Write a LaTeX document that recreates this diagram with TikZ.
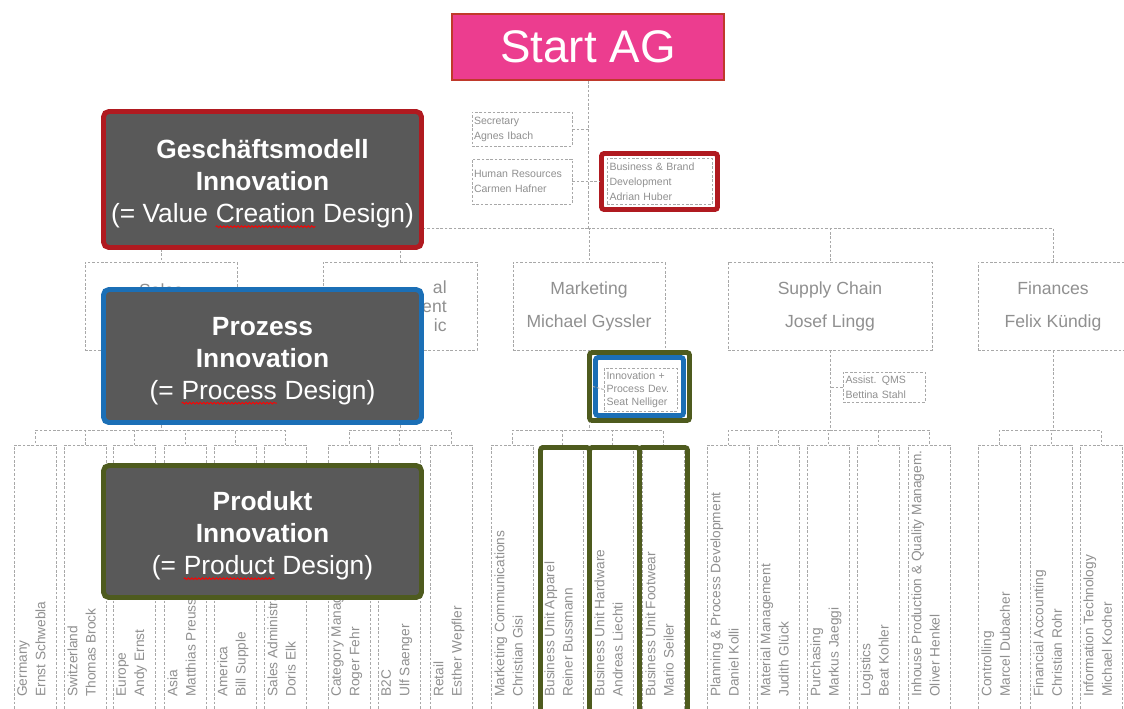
\documentclass[tikz,border=0pt]{standalone}
\usepackage{fontspec}
\setmainfont{Liberation Sans}
\usetikzlibrary{decorations.pathmorphing}

\definecolor{startpink}{HTML}{EC3D8F}
\definecolor{startrim}{HTML}{C0392B}
\definecolor{boxgray}{HTML}{595959}
\definecolor{bmred}{HTML}{B01A20}
\definecolor{procblue}{HTML}{1B6FB6}
\definecolor{prodolive}{HTML}{4E5B1E}
\definecolor{orggray}{HTML}{A8A8A8}
\definecolor{orgtext}{HTML}{909090}

% red spell-check squiggle under a word
\newcommand{\redwave}[1]{\tikz[baseline=(w.base)]{\node[inner sep=0pt, outer sep=0pt, minimum width=0pt, minimum height=0pt, draw=none, fill=none, text width=, anchor=base] (w) {#1};
    \draw[red, line width=0.5pt, rounded corners=0pt, decorate, decoration={snake, amplitude=0.5pt, segment length=2pt}]
        ([yshift=-2.2pt]w.base west) -- ([yshift=-2.2pt]w.base east);}}

\begin{document}
\begin{tikzpicture}[x=0.02cm, y=-0.02cm,
    orgline/.style={draw=orggray, line width=0.5pt, dash pattern=on 1.5pt off 1pt},
    orgbox/.style={draw=orggray, line width=0.5pt, dash pattern=on 1.5pt off 1pt, fill=white, inner sep=0pt, text=orgtext, align=center},
    lvltwo/.style={orgbox, minimum height=1.76cm, font=\fontsize{10}{18.8}\selectfont},
    smallbox/.style={orgbox, align=left, font=\fontsize{6}{8.5}\selectfont},
    leafbox/.style={orgbox, minimum width=0.84cm, minimum height=5.4cm},
    leaftxt/.style={text=orgtext, inner sep=0pt, rotate=90, anchor=north west, align=left, font=\fontsize{7.8}{10.5}\selectfont},
    focus/.style={fill=boxgray, line width=2.8pt, rounded corners=3pt, text=white, align=center, minimum width=6.36cm, font=\fontsize{15}{18.2}\selectfont},
    markframe/.style={line width=2.8pt, fill=white, rounded corners=1.5pt, inner sep=0pt}
]
    % Picture size
    \useasboundingbox (0,0) rectangle (1124,708);

    % Top of the chart
    \node[fill=startpink, draw=startrim, line width=1.2pt, minimum width=5.44cm, minimum height=1.32cm, text=white, font=\fontsize{26}{30}\selectfont] (ceo) at (588,47) {Start AG};

    % Staff boxes
    \node[smallbox, minimum width=2.0cm, text width=1.92cm, minimum height=0.68cm] (sec) at (522,129) {Secretary\\Agnes Ibach};
    \node[smallbox, minimum width=2.0cm, text width=1.92cm, minimum height=0.9cm] (hr) at (522,181.5) {Human Resources\\Carmen Hafner};
    \node[markframe, draw=bmred, minimum width=2.32cm, minimum height=1.12cm] (brand) at (659.5,181.5) {};
    \node[smallbox, minimum width=2.1cm, text width=2.0cm, minimum height=0.92cm] (bbd) at (659.5,181.5) {Business \& Brand\\Development\\Adrian Huber};

    % Divisions
    \node[lvltwo, minimum width=3.04cm] (sal) at (161,306) {};
    \node[text=orgtext, inner sep=0pt, font=\fontsize{10}{12}\selectfont] (sal-t) at (161,290) {Sales};
    \node[lvltwo, minimum width=3.08cm] (tec) at (400,306) {};
    \node[text=orgtext, inner sep=0pt, anchor=north east, align=right, font=\fontsize{10}{11}\selectfont] (tec-t) at (447,280) {al\\ent\\ic};
    \node[lvltwo, minimum width=3.04cm] (mkt) at (589,306) {Marketing\\Michael Gyssler};
    \node[lvltwo, minimum width=4.08cm] (sup) at (830,306) {Supply Chain\\Josef Lingg};
    \node[lvltwo, minimum width=3.0cm] (fin) at (1053,306) {Finances\\Felix Kündig};
    \node[smallbox, minimum width=1.64cm, text width=1.54cm, minimum height=0.6cm] (assist) at (884,387) {Assist. QMS\\Bettina Stahl};

    % Departments
    \foreach \n/\x/\a/\b in {ger/14/Germany/Ernst Schwebla, swi/64/Switzerland/Thomas Brock,
        eur/113/Europe/Andy Ernst, asi/164/Asia/Matthias Preusser, ame/214/America/Bill Supple,
        adm/264/Sales Administration/Doris Elk, cat/328/Category Management/Roger Fehr,
        b2c/378/B2C/Ulf Saenger, ret/430/Retail/Esther Wepfler,
        mco/491/Marketing Communications/Christian Gisi, app/541/Business Unit Apparel/Reiner Bussmann,
        har/591/Business Unit Hardware/Andreas Liechti, foo/642/Business Unit Footwear/Mario Seiler,
        pla/707/Planning \& Process Development/Daniel Kolli, mat/757/Material Management/Judith Glück,
        pur/807/Purchasing/Markus Jaeggi, log/857/Logistics/Beat Kohler,
        inh/908/Inhouse Production \& Quality Managem./Oliver Henkel,
        con/978/Controlling/Marcel Dubacher, fac/1030/Financial Accounting/Christian Rohr,
        ict/1080/Information Technology/Michael Kocher}
    {
        \node[leafbox] (\n) at (\x+21,580) {};
        \node[leaftxt] (\n-t) at (\x+3,697) {\a\\\b};
    }

    % Reporting lines
    \coordinate (hub) at (588,228);
    \draw[orgline] (ceo.south) -- (hub);
    \draw[orgline] (sec.east) -- (sec.east -| hub);
    \draw[orgline] (hr.east) -- (brand.west);
    \foreach \n in {sal,tec,mkt,sup,fin}
        \draw[orgline] (hub) -| (\n.north);
    \draw[orgline] (assist.west) -- (assist.west -| sup.south);

    \draw[orgline] (sal.south) -- ++(0,80) coordinate (salhub);
    \foreach \c in {ger,swi,eur,asi,ame,adm}
        \draw[orgline] (salhub) -| (\c.north);
    \draw[orgline] (tec.south) -- ++(0,80) coordinate (techub);
    \foreach \c in {cat,b2c,ret}
        \draw[orgline] (techub) -| (\c.north);
    \draw[orgline] (mkt.south) -- ++(0,80) coordinate (mkthub);
    \foreach \c in {mco,app,har,foo}
        \draw[orgline] (mkthub) -| (\c.north);
    \draw[orgline] (sup.south) -- ++(0,80) coordinate (suphub);
    \foreach \c in {pla,mat,pur,log,inh}
        \draw[orgline] (suphub) -| (\c.north);
    \draw[orgline] (fin.south) -- ++(0,80) coordinate (finhub);
    \foreach \c in {con,fac,ict}
        \draw[orgline] (finhub) -| (\c.north);

    % Innovation unit under marketing
    \node[markframe, draw=prodolive, minimum width=2.0cm, minimum height=1.36cm] (inno) at (639.5,386.5) {};
    \node[markframe, draw=procblue, minimum width=1.76cm, minimum height=1.16cm] (innob) at (639.5,386.5) {};
    \node[smallbox, font=\fontsize{6}{7.4}\selectfont, minimum width=1.46cm, text width=1.36cm, minimum height=0.86cm] (innot) at (640.5,389.5) {Innovation +\\Process Dev.\\Seat Nelliger};
    \draw[orgline] (innot.west) -- (innob.west);

    % Design levels
    \node[focus, draw=bmred, minimum height=2.72cm] (bizmodel) at (262.5,179.5) {\rule{0pt}{16pt}\textbf{Geschäftsmodell}\\\textbf{Innovation}\\(= Value \redwave{Creation} Design)};
    \node[focus, draw=procblue, minimum height=2.66cm] (process) at (262.5,356) {\rule{0pt}{16pt}\textbf{Prozess}\\\textbf{Innovation}\\(= \redwave{Process} Design)};
    \node[focus, draw=prodolive, minimum height=2.64cm] (product) at (262.5,531.5) {\rule{0pt}{16pt}\textbf{Produkt}\\\textbf{Innovation}\\(= \redwave{Product} Design)};

    % Business unit frames
    \draw[prodolive, line width=2.8pt, rounded corners=1.5pt] (540.5,447.5) rectangle (589.5,720)
        (589.5,447.5) rectangle (639.5,720) (639.5,447.5) rectangle (687.5,720);
\end{tikzpicture}
\end{document}
